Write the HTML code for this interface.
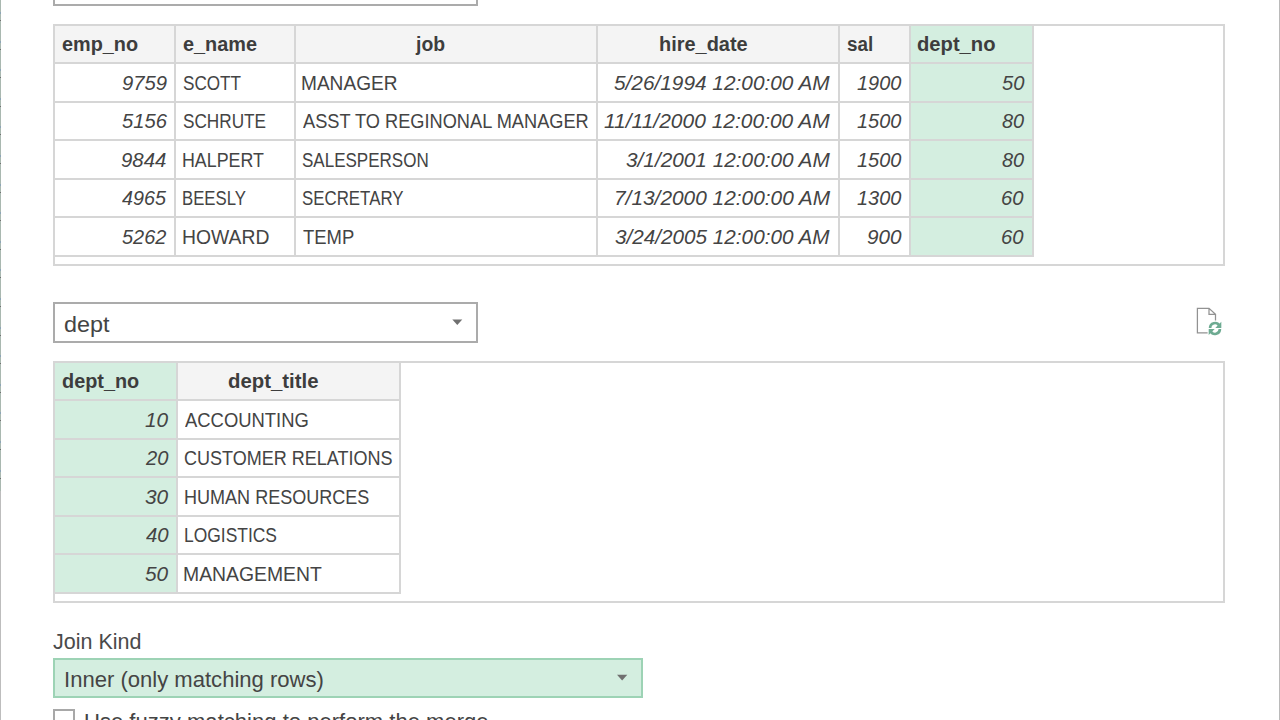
<!DOCTYPE html>
<html><head><meta charset="utf-8">
<style>
html,body{margin:0;padding:0;background:#fff;width:1280px;height:720px;overflow:hidden;position:relative;}
.a{position:absolute;box-sizing:border-box;}
.t{position:absolute;white-space:nowrap;font-family:"Liberation Sans",sans-serif;font-size:19.5px;line-height:19.5px;transform-origin:0 0;}
.hl{position:absolute;height:2px;background:#d6d6d6;}
.vl{position:absolute;width:2px;background:#d6d6d6;}
</style></head><body>
<!-- left strip -->
<div class="a" style="left:0;top:0;width:1px;height:491px;background:#a9b8b0"></div>
<div class="a" style="left:0;top:491px;width:1px;height:229px;background:#bdbdbd"></div>
<div class="a" style="left:0;top:12px;width:1px;height:2px;background:#8da4b6"></div>
<div class="a" style="left:0;top:20px;width:1px;height:1px;background:#6f6f6f"></div>
<div class="a" style="left:0;top:41px;width:1px;height:2px;background:#8da4b6"></div>
<div class="a" style="left:0;top:49px;width:1px;height:1px;background:#6f6f6f"></div>
<div class="a" style="left:0;top:69px;width:1px;height:2px;background:#8da4b6"></div>
<div class="a" style="left:0;top:77px;width:1px;height:1px;background:#6f6f6f"></div>
<div class="a" style="left:0;top:98px;width:1px;height:2px;background:#8da4b6"></div>
<div class="a" style="left:0;top:106px;width:1px;height:1px;background:#6f6f6f"></div>
<div class="a" style="left:0;top:126px;width:1px;height:2px;background:#8da4b6"></div>
<div class="a" style="left:0;top:134px;width:1px;height:1px;background:#6f6f6f"></div>
<div class="a" style="left:0;top:155px;width:1px;height:2px;background:#8da4b6"></div>
<div class="a" style="left:0;top:163px;width:1px;height:1px;background:#6f6f6f"></div>
<div class="a" style="left:0;top:184px;width:1px;height:2px;background:#8da4b6"></div>
<div class="a" style="left:0;top:192px;width:1px;height:1px;background:#6f6f6f"></div>
<div class="a" style="left:0;top:212px;width:1px;height:2px;background:#8da4b6"></div>
<div class="a" style="left:0;top:220px;width:1px;height:1px;background:#6f6f6f"></div>
<div class="a" style="left:0;top:241px;width:1px;height:2px;background:#8da4b6"></div>
<div class="a" style="left:0;top:249px;width:1px;height:1px;background:#6f6f6f"></div>
<div class="a" style="left:0;top:269px;width:1px;height:2px;background:#8da4b6"></div>
<div class="a" style="left:0;top:277px;width:1px;height:1px;background:#6f6f6f"></div>
<div class="a" style="left:0;top:298px;width:1px;height:2px;background:#8da4b6"></div>
<div class="a" style="left:0;top:306px;width:1px;height:1px;background:#6f6f6f"></div>
<div class="a" style="left:0;top:327px;width:1px;height:2px;background:#8da4b6"></div>
<div class="a" style="left:0;top:335px;width:1px;height:1px;background:#6f6f6f"></div>
<div class="a" style="left:0;top:355px;width:1px;height:2px;background:#8da4b6"></div>
<div class="a" style="left:0;top:363px;width:1px;height:1px;background:#6f6f6f"></div>
<div class="a" style="left:0;top:384px;width:1px;height:2px;background:#8da4b6"></div>
<div class="a" style="left:0;top:392px;width:1px;height:1px;background:#6f6f6f"></div>
<div class="a" style="left:0;top:412px;width:1px;height:2px;background:#8da4b6"></div>
<div class="a" style="left:0;top:420px;width:1px;height:1px;background:#6f6f6f"></div>
<div class="a" style="left:0;top:441px;width:1px;height:2px;background:#8da4b6"></div>
<div class="a" style="left:0;top:449px;width:1px;height:1px;background:#6f6f6f"></div>
<div class="a" style="left:0;top:470px;width:1px;height:2px;background:#8da4b6"></div>
<div class="a" style="left:0;top:478px;width:1px;height:1px;background:#6f6f6f"></div>
<!-- right line -->
<div class="a" style="left:1279px;top:0;width:1px;height:720px;background:#bababa"></div>

<!-- top dropdown remnant -->
<div class="a" style="left:53px;top:-39px;width:425px;height:45px;border:2px solid #ababab;background:#fff"></div>

<!-- ===== Table 1 ===== -->
<div class="a" style="left:53px;top:24px;width:1172px;height:242px;border:2px solid #d6d6d6;background:#fff"></div>
<!-- header bg -->
<div class="a" style="left:55px;top:26px;width:855px;height:36px;background:#f4f4f4"></div>
<div class="a" style="left:911px;top:26px;width:121px;height:36px;background:#d4eee0"></div>
<!-- green col -->
<div class="a" style="left:911px;top:64px;width:121px;height:191px;background:#d4eee0"></div>
<!-- col lines -->
<div class="vl" style="left:174px;top:26px;height:231px"></div>
<div class="vl" style="left:294px;top:26px;height:231px"></div>
<div class="vl" style="left:596px;top:26px;height:231px"></div>
<div class="vl" style="left:838px;top:26px;height:231px"></div>
<div class="vl" style="left:909px;top:26px;height:231px"></div>
<div class="vl" style="left:1032px;top:26px;height:231px"></div>
<!-- row lines -->
<div class="hl" style="left:55px;top:62px;width:979px"></div>
<div class="hl" style="left:55px;top:101px;width:979px"></div>
<div class="hl" style="left:55px;top:139px;width:979px"></div>
<div class="hl" style="left:55px;top:178px;width:979px"></div>
<div class="hl" style="left:55px;top:216px;width:979px"></div>
<div class="hl" style="left:55px;top:255px;width:979px"></div>

<!-- dept dropdown -->
<div class="a" style="left:53px;top:302px;width:425px;height:41px;border:2px solid #ababab;background:#fff"></div>
<svg class="a" style="left:450px;top:317px" width="16" height="10" viewBox="0 0 16 10"><path d="M2.3 2.5 L12.3 2.5 L7.3 8 Z" fill="#707070"/></svg>

<!-- refresh icon -->
<svg class="a" style="left:1190px;top:300px" width="40" height="40" viewBox="0 0 40 40">
  <path d="M7.4 8.4 H19 L25.5 14.25 V20.5 M7.4 7.8 V32.75 H17.6 M19 8.4 V14.25 H25.5" fill="none" stroke="#929292" stroke-width="1.25" stroke-linejoin="miter"/>
  <g fill="none" stroke="#6eab92" stroke-width="2.7">
    <path d="M20.1 28 A4.9 4.9 0 0 1 29.3 25.6"/>
    <path d="M29.9 29 A4.9 4.9 0 0 1 20.7 31.4"/>
  </g>
  <path d="M25.3 27.9 L31.3 27.9 L31.3 21.8 Z" fill="#6eab92"/>
  <path d="M24.7 29 L18.7 29 L18.7 35 Z" fill="#6eab92"/>
</svg>

<!-- ===== Table 2 ===== -->
<div class="a" style="left:53px;top:361px;width:1172px;height:242px;border:2px solid #d6d6d6;background:#fff"></div>
<div class="a" style="left:55px;top:363px;width:121px;height:36px;background:#d4eee0"></div>
<div class="a" style="left:178px;top:363px;width:221px;height:36px;background:#f4f4f4"></div>
<div class="a" style="left:55px;top:401px;width:121px;height:191px;background:#d4eee0"></div>
<div class="vl" style="left:176px;top:363px;height:231px"></div>
<div class="vl" style="left:399px;top:363px;height:231px"></div>
<div class="hl" style="left:55px;top:399px;width:346px"></div>
<div class="hl" style="left:55px;top:438px;width:346px"></div>
<div class="hl" style="left:55px;top:476px;width:346px"></div>
<div class="hl" style="left:55px;top:515px;width:346px"></div>
<div class="hl" style="left:55px;top:553px;width:346px"></div>
<div class="hl" style="left:55px;top:592px;width:346px"></div>

<!-- join kind dropdown -->
<div class="a" style="left:53px;top:658px;width:590px;height:40px;border:2px solid #9dd3b5;background:#d4eee0"></div>
<svg class="a" style="left:610px;top:672px" width="24" height="12" viewBox="0 0 24 12"><path d="M7 2.8 L17.3 2.8 L12.15 8.4 Z" fill="#707070"/></svg>

<!-- checkbox -->
<div class="a" style="left:53px;top:709px;width:22px;height:22px;border:2px solid #a8a8a8;background:#fff"></div>

<div class="t" style="left:61.64px;top:35px;transform:scaleX(1.0179);color:#3d3d3d;font-weight:bold;">emp_no</div>
<div class="t" style="left:182.89px;top:35px;transform:scaleX(1.0185);color:#3d3d3d;font-weight:bold;">e_name</div>
<div class="t" style="left:416.47px;top:35px;transform:scaleX(0.9937);color:#3d3d3d;font-weight:bold;">job</div>
<div class="t" style="left:658.74px;top:35px;transform:scaleX(1.0224);color:#3d3d3d;font-weight:bold;">hire_date</div>
<div class="t" style="left:846.55px;top:35px;transform:scaleX(0.9667);color:#3d3d3d;font-weight:bold;">sal</div>
<div class="t" style="left:917.11px;top:35px;transform:scaleX(1.0352);color:#3d3d3d;font-weight:bold;">dept_no</div>
<div class="t" style="left:121.51px;top:74px;transform:scaleX(1.0394);color:#444444;font-style:italic;">9759</div>
<div class="t" style="left:182.70px;top:74px;transform:scaleX(0.8782);color:#444444;">SCOTT</div>
<div class="t" style="left:301.37px;top:74px;transform:scaleX(0.9785);color:#444444;">MANAGER</div>
<div class="t" style="left:614.35px;top:74px;transform:scaleX(1.0673);color:#444444;font-style:italic;">5/26/1994 12:00:00 AM</div>
<div class="t" style="left:857.00px;top:74px;transform:scaleX(1.0226);color:#444444;font-style:italic;">1900</div>
<div class="t" style="left:1001.67px;top:74px;transform:scaleX(1.0356);color:#444444;font-style:italic;">50</div>
<div class="t" style="left:121.67px;top:112px;transform:scaleX(1.0342);color:#444444;font-style:italic;">5156</div>
<div class="t" style="left:182.68px;top:112px;transform:scaleX(0.8810);color:#444444;">SCHRUTE</div>
<div class="t" style="left:302.82px;top:112px;transform:scaleX(0.9340);color:#444444;">ASST TO REGINONAL MANAGER</div>
<div class="t" style="left:604.36px;top:112px;transform:scaleX(1.0753);color:#444444;font-style:italic;">11/11/2000 12:00:00 AM</div>
<div class="t" style="left:857.00px;top:112px;transform:scaleX(1.0226);color:#444444;font-style:italic;">1500</div>
<div class="t" style="left:1001.87px;top:112px;transform:scaleX(1.0220);color:#444444;font-style:italic;">80</div>
<div class="t" style="left:121.49px;top:151px;transform:scaleX(1.0456);color:#444444;font-style:italic;">9844</div>
<div class="t" style="left:182.30px;top:151px;transform:scaleX(0.9137);color:#444444;">HALPERT</div>
<div class="t" style="left:301.95px;top:151px;transform:scaleX(0.8726);color:#444444;">SALESPERSON</div>
<div class="t" style="left:626.14px;top:151px;transform:scaleX(1.0660);color:#444444;font-style:italic;">3/1/2001 12:00:00 AM</div>
<div class="t" style="left:857.00px;top:151px;transform:scaleX(1.0226);color:#444444;font-style:italic;">1500</div>
<div class="t" style="left:1001.87px;top:151px;transform:scaleX(1.0220);color:#444444;font-style:italic;">80</div>
<div class="t" style="left:122.29px;top:189px;transform:scaleX(1.0115);color:#444444;font-style:italic;">4965</div>
<div class="t" style="left:182.44px;top:189px;transform:scaleX(0.8588);color:#444444;">BEESLY</div>
<div class="t" style="left:301.95px;top:189px;transform:scaleX(0.8647);color:#444444;">SECRETARY</div>
<div class="t" style="left:613.89px;top:189px;transform:scaleX(1.0697);color:#444444;font-style:italic;">7/13/2000 12:00:00 AM</div>
<div class="t" style="left:857.00px;top:189px;transform:scaleX(1.0226);color:#444444;font-style:italic;">1300</div>
<div class="t" style="left:1001.39px;top:189px;transform:scaleX(1.0382);color:#444444;font-style:italic;">60</div>
<div class="t" style="left:122.19px;top:228px;transform:scaleX(1.0219);color:#444444;font-style:italic;">5262</div>
<div class="t" style="left:182.09px;top:228px;transform:scaleX(0.9920);color:#444444;">HOWARD</div>
<div class="t" style="left:302.62px;top:228px;transform:scaleX(0.9467);color:#444444;">TEMP</div>
<div class="t" style="left:615.34px;top:228px;transform:scaleX(1.0616);color:#444444;font-style:italic;">3/24/2005 12:00:00 AM</div>
<div class="t" style="left:866.79px;top:228px;transform:scaleX(1.0614);color:#444444;font-style:italic;">900</div>
<div class="t" style="left:1001.39px;top:228px;transform:scaleX(1.0382);color:#444444;font-style:italic;">60</div>
<div class="t" style="left:63.61px;top:314px;transform:scaleX(1.0825);color:#444444;font-size:21.6px;line-height:21.6px;">dept</div>
<div class="t" style="left:61.82px;top:372px;transform:scaleX(1.0187);color:#3d3d3d;font-weight:bold;">dept_no</div>
<div class="t" style="left:228.41px;top:372px;transform:scaleX(1.0443);color:#3d3d3d;font-weight:bold;">dept_title</div>
<div class="t" style="left:145.28px;top:411px;transform:scaleX(1.0688);color:#444444;font-style:italic;">10</div>
<div class="t" style="left:184.82px;top:411px;transform:scaleX(0.9447);color:#444444;">ACCOUNTING</div>
<div class="t" style="left:146.02px;top:449px;transform:scaleX(1.0328);color:#444444;font-style:italic;">20</div>
<div class="t" style="left:184.05px;top:449px;transform:scaleX(0.9237);color:#444444;">CUSTOMER RELATIONS</div>
<div class="t" style="left:145.14px;top:488px;transform:scaleX(1.0714);color:#444444;font-style:italic;">30</div>
<div class="t" style="left:183.55px;top:488px;transform:scaleX(0.9249);color:#444444;">HUMAN RESOURCES</div>
<div class="t" style="left:145.79px;top:526px;transform:scaleX(1.0454);color:#444444;font-style:italic;">40</div>
<div class="t" style="left:183.60px;top:526px;transform:scaleX(0.8940);color:#444444;">LOGISTICS</div>
<div class="t" style="left:145.15px;top:565px;transform:scaleX(1.0703);color:#444444;font-style:italic;">50</div>
<div class="t" style="left:183.34px;top:565px;transform:scaleX(0.9928);color:#444444;">MANAGEMENT</div>
<div class="t" style="left:52.58px;top:631px;transform:scaleX(0.9960);color:#4a4a4a;font-size:21.6px;line-height:21.6px;">Join Kind</div>
<div class="t" style="left:63.58px;top:669px;transform:scaleX(1.0215);color:#444444;font-size:21.6px;line-height:21.6px;">Inner (only matching rows)</div>
<div class="t" style="left:83.82px;top:711px;transform:scaleX(1.0217);color:#444444;font-size:21.6px;line-height:21.6px;">Use fuzzy matching to perform the merge</div>
</body></html>
